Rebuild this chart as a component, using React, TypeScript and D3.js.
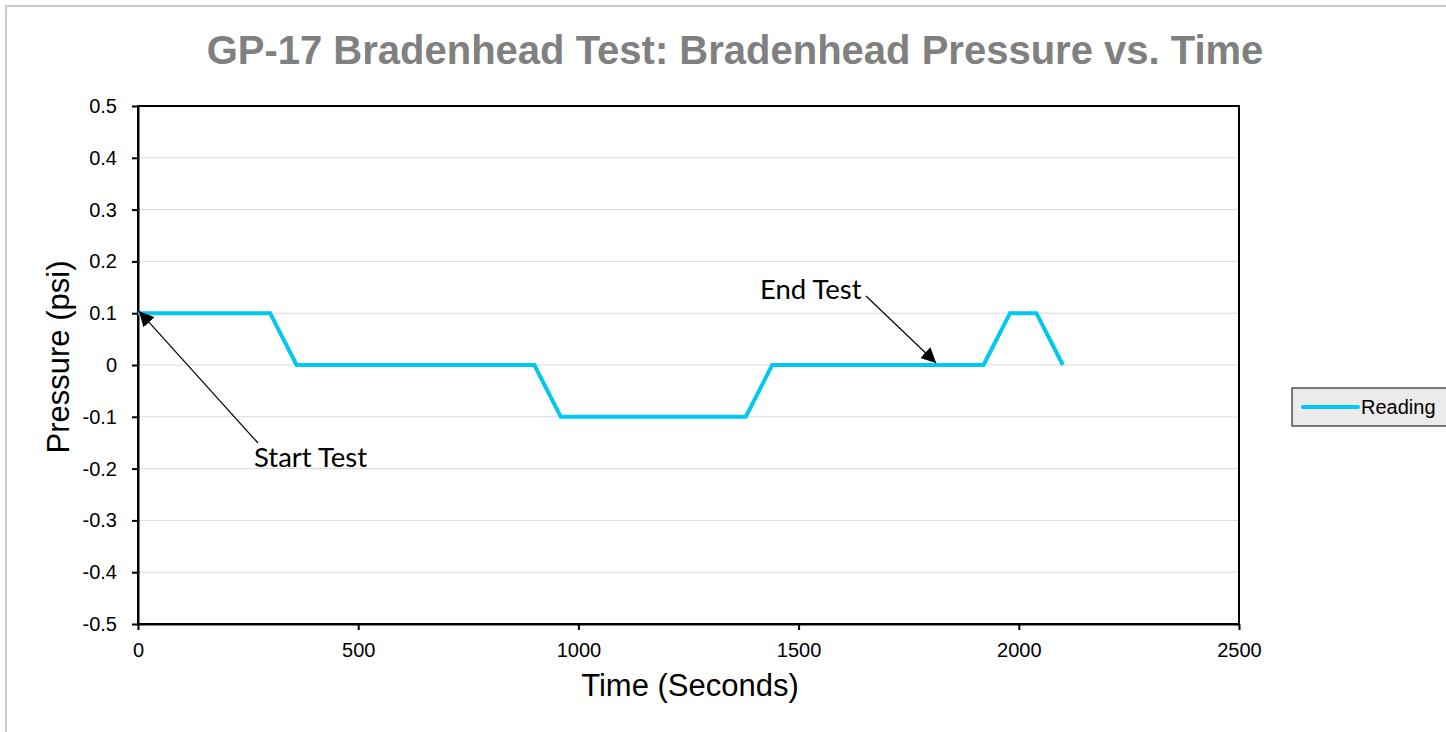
import * as d3 from 'd3';
import React, { useRef, useEffect } from 'react';

// readings every 60 s
const times = [0, 60, 120, 180, 240, 300, 360, 420, 480, 540, 600, 660, 720, 780, 840, 900, 960, 1020, 1080, 1140, 1200, 1260, 1320, 1380, 1440, 1500, 1560, 1620, 1680, 1740, 1800, 1860, 1920, 1980, 2040, 2100];
const pressures = [0.1, 0.1, 0.1, 0.1, 0.1, 0.1, 0, 0, 0, 0, 0, 0, 0, 0, 0, 0, -0.1, -0.1, -0.1, -0.1, -0.1, -0.1, -0.1, -0.1, 0, 0, 0, 0, 0, 0, 0, 0, 0, 0.1, 0.1, 0];
const xTicks = [0, 500, 1000, 1500, 2000, 2500];
const yTicks = [-0.5, -0.4, -0.3, -0.2, -0.1, 0, 0.1, 0.2, 0.3, 0.4, 0.5];

export default function App() {
  const ref = useRef<SVGSVGElement>(null);
  const width = 1446;
  const height = 732;
  const margin = { top: 106, left: 138, right: 1239, bottom: 624 };
  const arial = "'Liberation Sans', Arial, sans-serif";

  useEffect(() => {
    const svg = d3.select(ref.current);
    svg.selectAll('*').remove();

    const x = d3.scaleLinear().domain([0, 2500]).range([margin.left, margin.right]);
    const y = d3.scaleLinear().domain([-0.5, 0.5]).range([margin.bottom, margin.top]);

    // outer frame
    svg.append('rect')
      .attr('x', 6).attr('y', 6).attr('width', 1460).attr('height', 760)
      .attr('fill', 'white').attr('stroke', '#b8b8d4').attr('stroke-width', 1.5);

    svg.append('text')
      .attr('x', 735).attr('y', 64)
      .attr('text-anchor', 'middle')
      .attr('font-family', arial)
      .attr('font-weight', 'bold').attr('font-size', 40)
      .attr('fill', '#808080')
      .text('GP-17 Bradenhead Test: Bradenhead Pressure vs. Time');

    // gridlines
    svg.append('g').selectAll('line').data(yTicks).enter().append('line')
      .attr('x1', margin.left).attr('x2', margin.right)
      .attr('y1', d => y(d)).attr('y2', d => y(d))
      .attr('stroke', '#d9d9d9').attr('stroke-width', 1);

    // plot border
    svg.append('rect')
      .attr('x', margin.left).attr('y', margin.top)
      .attr('width', margin.right - margin.left).attr('height', margin.bottom - margin.top)
      .attr('fill', 'none').attr('stroke', 'black').attr('stroke-width', 2);

    const yAxis = d3.axisLeft(y).tickValues(yTicks).tickSize(6).tickSizeOuter(0)
      .tickFormat(d => (+d === 0 ? '0' : (+d).toFixed(1)));
    const yg = svg.append('g').attr('transform', `translate(${margin.left},0)`).call(yAxis);
    yg.select('.domain').attr('stroke-width', 2);
    yg.selectAll('.tick line').attr('stroke-width', 2);
    yg.selectAll('text').attr('font-family', arial)
      .attr('font-size', 20).attr('fill', 'black').attr('x', -21);

    const xAxis = d3.axisBottom(x).tickValues(xTicks).tickSize(6).tickSizeOuter(0)
      .tickFormat(d3.format('d'));
    const xg = svg.append('g').attr('transform', `translate(0,${margin.bottom})`).call(xAxis);
    xg.select('.domain').attr('stroke-width', 2);
    xg.selectAll('.tick line').attr('stroke-width', 2);
    xg.selectAll('text').attr('font-family', arial)
      .attr('font-size', 20).attr('fill', 'black').attr('y', 19);

    svg.append('text')
      .attr('x', 690).attr('y', 696).attr('text-anchor', 'middle')
      .attr('font-family', arial).attr('font-size', 31)
      .text('Time (Seconds)');
    svg.append('text')
      .attr('transform', 'translate(69,357) rotate(-90)').attr('text-anchor', 'middle')
      .attr('font-family', arial).attr('font-size', 31)
      .text('Pressure (psi)');

    const line = d3.line<number>().x((d, i) => x(times[i])).y(d => y(d));
    svg.append('path').datum(pressures)
      .attr('d', line).attr('fill', 'none')
      .attr('stroke', '#00c8f0').attr('stroke-width', 4).attr('stroke-linejoin', 'miter');

    // annotations
    svg.append('defs').append('marker')
      .attr('id', 'arr').attr('viewBox', '0 0 10 10').attr('refX', 10).attr('refY', 5)
      .attr('markerWidth', 15).attr('markerHeight', 15).attr('markerUnits', 'userSpaceOnUse')
      .attr('orient', 'auto')
      .append('path').attr('d', 'M0,0 L10,5 L0,10 z').attr('fill', 'black');

    const annos = [
      { label: 'Start Test', t: 0, p: 0.1, lx: 254, ly: 467, ax: 258, ay: 443 },
      { label: 'End Test', t: 1810, p: 0, lx: 760, ly: 299, ax: 866, ay: 296 },
    ];
    annos.forEach(a => {
      svg.append('line')
        .attr('x1', a.ax).attr('y1', a.ay).attr('x2', x(a.t) + 1).attr('y2', y(a.p) - 2)
        .attr('stroke', 'black').attr('stroke-width', 1.2).attr('marker-end', 'url(#arr)');
      svg.append('text').attr('x', a.lx).attr('y', a.ly)
        .attr('font-family', "Lato, 'Open Sans', sans-serif").attr('font-size', 27.5)
        .text(a.label);
    });

    // legend
    const lg = svg.append('g').attr('transform', 'translate(1292,388)');
    lg.append('rect').attr('width', 170).attr('height', 38)
      .attr('fill', '#ebebeb').attr('stroke', 'black').attr('stroke-width', 1);
    lg.append('line').attr('x1', 11).attr('x2', 66).attr('y1', 19).attr('y2', 19)
      .attr('stroke', '#00c8f0').attr('stroke-width', 4).attr('stroke-linecap', 'round');
    lg.append('text').attr('x', 69).attr('y', 26)
      .attr('font-family', arial).attr('font-size', 20)
      .text('Reading');
  }, []);

  return (
    <svg ref={ref} width={width} height={height}
      style={{ position: 'absolute', left: 0, top: 0 }} />
  );
}
